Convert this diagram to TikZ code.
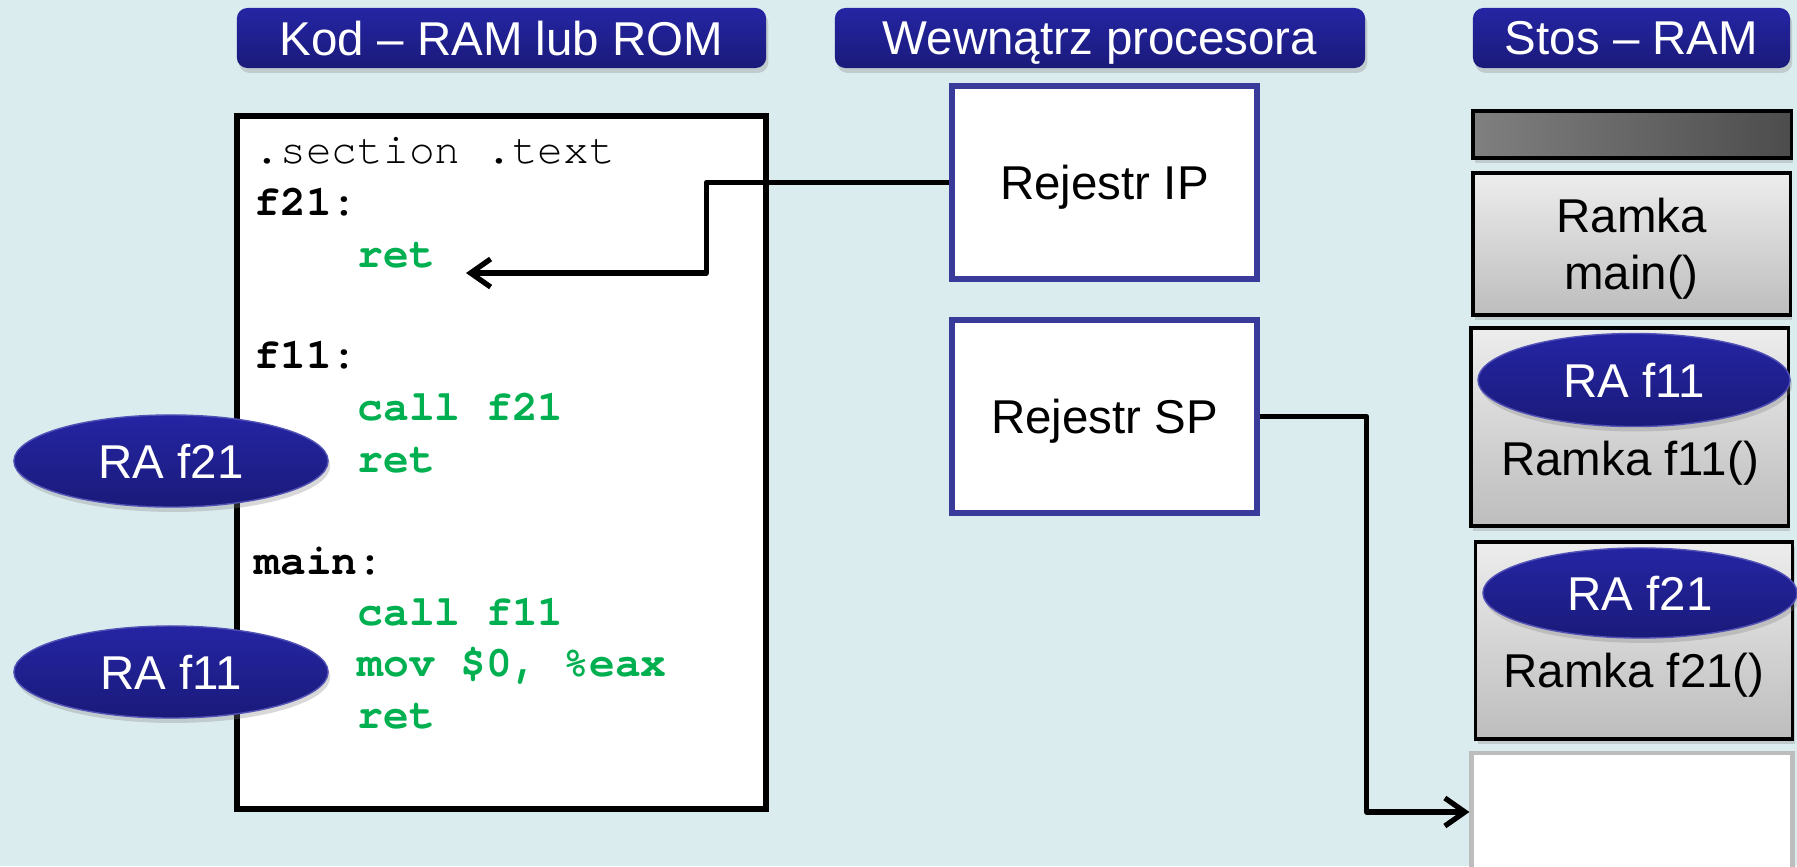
\documentclass[tikz,border=0pt]{standalone}
\usepackage{fontspec}
\setmainfont{Liberation Sans}
\setmonofont{TeX Gyre Cursor}
\usetikzlibrary{shapes.geometric,arrows.meta,shadows}
\definecolor{tlo}{RGB}{219,236,239}
\definecolor{granat}{RGB}{37,37,164}
\definecolor{granatd}{RGB}{26,26,122}
\definecolor{ramkareg}{RGB}{58,58,155}
\definecolor{zielony}{RGB}{0,176,80}
\definecolor{jasny}{RGB}{237,237,237}
\definecolor{ciemny}{RGB}{189,189,189}
\newcommand\napis{\fontsize{13.5}{16.2}\selectfont}
\newcommand\kodfont{\ttfamily\fontsize{12.2}{14}\selectfont}

\begin{document}
\begin{tikzpicture}[x=0.01cm, y=-0.01cm, font=\napis,
  cien/.style={drop shadow={opacity=0.3, shadow xshift=0.6pt, shadow yshift=-1.4pt}},
  naglowek/.style={rounded corners=3pt, top color=granat, bottom color=granatd,
    text=white, inner sep=0, minimum height=0.6cm, text depth=0pt, cien},
  owal/.style={ellipse, top color=granat, bottom color=granatd, draw=granat!80!white,
    text=white, inner sep=0, minimum width=3.14cm, minimum height=0.92cm, text depth=0pt, cien},
  rejestr/.style={draw=ramkareg, line width=1.5pt, fill=white, minimum width=3.05cm,
    minimum height=1.93cm, inner sep=0, text depth=0pt},
  ramka/.style={draw, line width=0.9pt, top color=jasny, bottom color=ciemny,
    minimum width=3.17cm, inner sep=0, cien},
  tekst/.style={anchor=base, inner sep=0},
  asm/.style={anchor=base west, inner sep=0, font=\kodfont},
  etykieta/.style={asm, font=\kodfont\bfseries},
  rozkaz/.style={etykieta, text=zielony},
  strzalka/.style={line width=1.5pt, line join=round, -{Straight Barb[length=2mm,width=2.8mm]}}]
  \useasboundingbox (0,0) rectangle (1797,866);
  \fill[tlo] (0,0) rectangle (1797,866);

  % naglowki
  \node[naglowek, minimum width=5.29cm] (hkod) at (501.5,38) {Kod – RAM lub ROM};
  \node[naglowek, minimum width=5.30cm] (hcpu) at (1100,38) {Wewnątrz procesora};
  \node[naglowek, minimum width=3.17cm] (hstos) at (1631.5,38) {Stos – RAM};

  % kod programu
  \node[draw, line width=1.8pt, fill=white, minimum width=5.29cm, minimum height=6.93cm,
    inner sep=0] (kod) at (501.5,462.5) {};
  \node[asm] (l0) at (254,163) {.section .text};
  \node[etykieta] (l1) at (254,215) {f21:};
  \node[rozkaz] (l2) at (357,267) {ret};
  \node[etykieta] (l4) at (254,368) {f11:};
  \node[rozkaz] (l5) at (357,420) {call f21};
  \node[rozkaz] (l6) at (357,472) {ret};
  \node[etykieta] (l8) at (254,574) {main:};
  \node[rozkaz] (l9) at (357,625) {call f11};
  \node[rozkaz] (l10) at (357,676) {mov \$0, \%eax};
  \node[rozkaz] (l11) at (357,728) {ret};
  \node[owal] (ra21) at (171,461) {RA f21};
  \node[owal] (ra11) at (171,672) {RA f11};

  % rejestry
  \node[rejestr] (ip) at (1104.5,182.5) {Rejestr IP};
  \node[rejestr] (sp) at (1104.5,416.5) {Rejestr SP};

  % stos
  \node[draw, line width=0.9pt, left color=black!50, right color=black!70,
    minimum width=3.18cm, minimum height=0.47cm, inner sep=0, cien] (dno) at (1632,134.5) {};
  \node[ramka, minimum height=1.42cm, align=center, text depth=0pt] (rmain) at (1631.5,244)
    {Ramka\\main()};
  \node[ramka, minimum height=1.98cm] (rf11) at (1629.5,427) {};
  \node[owal, minimum width=3.12cm, minimum height=0.93cm] (sra11) at (1634,380) {RA f11};
  \node[tekst] (tf11) at (1630,475) {Ramka f11()};
  \node[ramka, minimum height=1.97cm] (rf21) at (1634,640.5) {};
  \node[owal, minimum height=0.9cm] (sra21) at (1640,593) {RA f21};
  \node[tekst] (tf21) at (1634,687) {Ramka f21()};
  \node[draw=ciemny, line width=1.4pt, fill=white, minimum width=3.2cm, minimum height=1.18cm,
    inner sep=0] (wolne) at (1632,812) {};

  % strzalki
  \coordinate (cel) at (466,273);
  \draw[strzalka] (ip.west) -- ++(-243,0) |- (cel);
  \draw[strzalka] (sp.east) -- ++(107,0) |- (wolne.west);
\end{tikzpicture}
\end{document}
